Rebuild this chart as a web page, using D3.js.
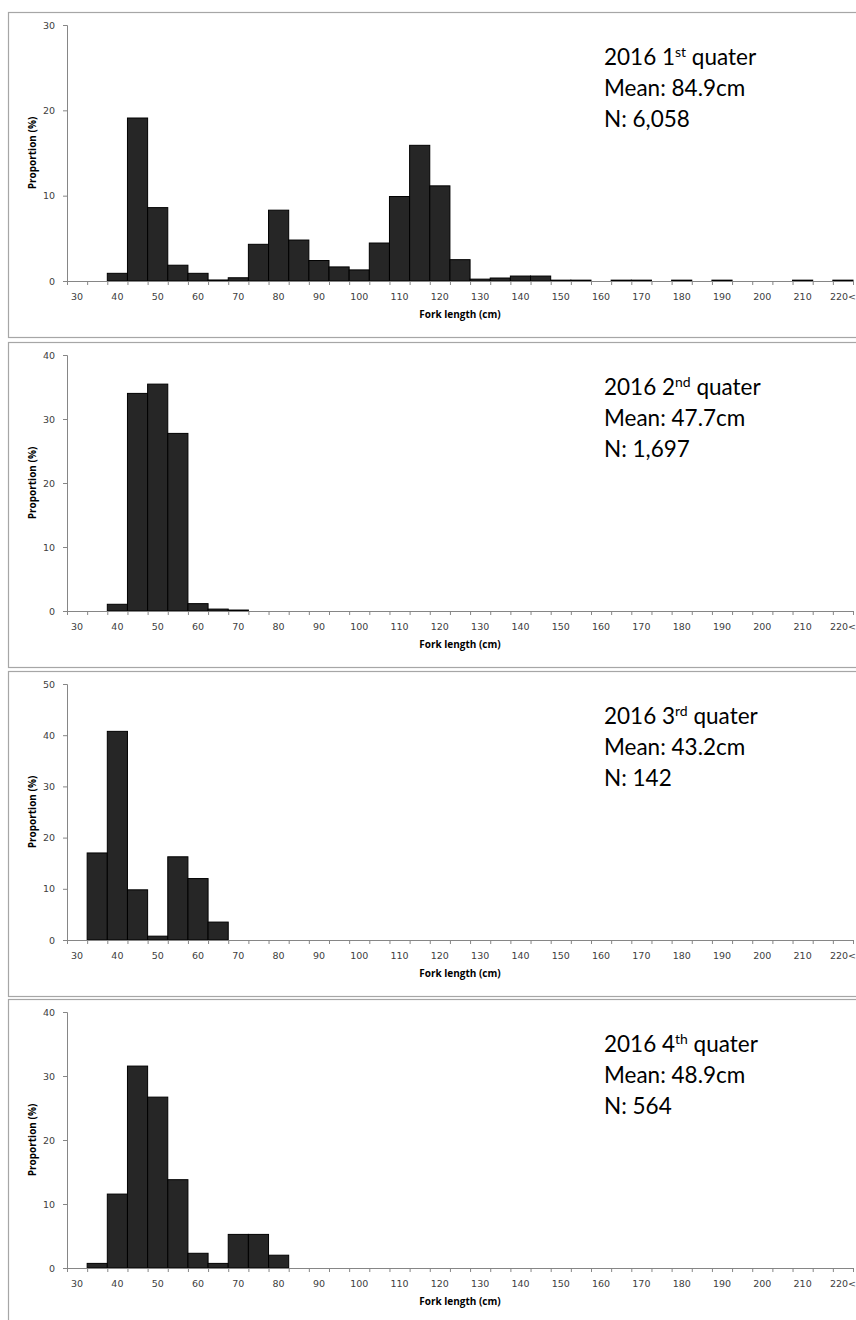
<!DOCTYPE html>
<html>
<head>
<meta charset="utf-8">
<script src="https://cdn.jsdelivr.net/npm/d3@7"></script>
<style>
  body { margin: 0; background: #fff; }
  svg { display: block; }
</style>
</head>
<body>
<script>
// fork length classes (5 cm)
var categories = ["30","35","40","45","50","55","60","65","70","75","80","85","90","95",
  "100","105","110","115","120","125","130","135","140","145","150","155","160","165",
  "170","175","180","185","190","195","200","205","210","215","220<"];
var tickLabels = ["30","40","50","60","70","80","90","100","110","120","130","140","150",
  "160","170","180","190","200","210","220<"];

// proportion (%) per class
var q1 = [0,0,0.9,19.1,8.6,1.85,0.9,0.12,0.38,4.3,8.3,4.8,2.4,1.65,1.3,4.45,9.9,15.9,11.15,2.5,
  0.22,0.35,0.58,0.58,0.1,0.1,0,0.1,0.1,0,0.1,0,0.1,0,0,0,0.1,0,0.1];
var q2 = [0,0,1.05,34.0,35.45,27.75,1.15,0.3,0.15,0,0,0,0,0,0,0,0,0,0,0,
  0,0,0,0,0,0,0,0,0,0,0,0,0,0,0,0,0,0,0];
var q3 = [0,17.0,40.75,9.8,0.75,16.25,12.0,3.5,0,0,0,0,0,0,0,0,0,0,0,0,
  0,0,0,0,0,0,0,0,0,0,0,0,0,0,0,0,0,0,0];
var q4 = [0,0.72,11.55,31.55,26.7,13.8,2.3,0.72,5.25,5.25,2.0,0,0,0,0,0,0,0,0,0,
  0,0,0,0,0,0,0,0,0,0,0,0,0,0,0,0,0,0,0];

var quarters = ["1","2","3","4"],
    suffixes = ["st","nd","rd","th"],
    means = ["84.9","47.7","43.2","48.9"],
    counts = ["6,058","1,697","142","564"],
    yMax = [30,40,50,40];

var series = [q1,q2,q3,q4],
    panelTop = [12,342,671,999];

var svg = d3.select("body").append("svg").attr("width",856).attr("height",1320);

var x = d3.scaleBand().domain(categories).range([67,853]).padding(0),
    xEdge = d3.scaleLinear().domain([0,categories.length]).range([67,853]);

series.forEach(function(vals,p){
  var top = panelTop[p],
      g = svg.append("g").attr("transform","translate(0,"+top+")");

  // frame
  g.append("rect")
    .attr("x",8.5).attr("y",0.5).attr("width",880).attr("height",325)
    .attr("fill","none").attr("stroke","#a6a6a6").attr("stroke-width",1.2);

  var y = d3.scaleLinear().domain([0,yMax[p]]).range([269,13]);

  var bars = categories.map(function(c,i){ return {cat:c, val:vals[i]}; })
                       .filter(function(d){ return d.val > 0; });

  // bars
  g.selectAll("rect.bar")
    .data(bars)
    .enter().append("rect")
      .attr("class","bar")
      .attr("x",function(d){ return x(d.cat); })
      .attr("width",x.bandwidth())
      .attr("y",function(d){ return y(d.val); })
      .attr("height",function(d){ return 269 - y(d.val); })
      .attr("fill","#262626")
      .attr("stroke","#000")
      .attr("stroke-width",1);

  // y axis
  var yAxis = d3.axisLeft(y).tickValues(d3.range(0,yMax[p]+1,10)).tickSize(4).tickPadding(8);
  var ya = g.append("g").attr("transform","translate(67,0)").call(yAxis);

  // x axis: boundary ticks
  var xa = g.append("g").attr("transform","translate(0,269)")
    .call(d3.axisBottom(xEdge).tickValues(d3.range(0,categories.length+1)).tickSize(4).tickFormat(""));
  // x axis labels at class centres
  var xl = g.append("g").attr("transform","translate(0,269)")
    .call(d3.axisBottom(x).tickValues(tickLabels).tickSize(0).tickPadding(12));
  xl.select(".domain").remove();

  [ya,xa,xl].forEach(function(a){
    a.selectAll(".domain,line").attr("stroke","#868686");
    a.selectAll("text").attr("fill","#404040")
      .style("font-family","'DejaVu Sans', Verdana, sans-serif").style("font-size","9.5px");
  });

  // axis titles
  g.append("text")
    .attr("x",460).attr("y",306)
    .attr("text-anchor","middle")
    .style("font-family","'Open Sans', sans-serif").style("font-size","10px").style("font-weight","bold")
    .attr("fill","#000")
    .text("Fork length (cm)");

  g.append("text")
    .attr("transform","translate(36,141) rotate(-90)")
    .attr("text-anchor","middle")
    .style("font-family","'Open Sans', sans-serif").style("font-size","10px").style("font-weight","bold")
    .attr("fill","#000")
    .text("Proportion (%)");

  // annotation
  var note = g.append("text")
    .attr("x",604).attr("y",53)
    .style("font-family","Lato, sans-serif").style("font-size","22.5px").attr("fill","#000");
  note.append("tspan").text("2016 " + quarters[p]);
  note.append("tspan").attr("dy",-8).style("font-size","14px").text(suffixes[p]);
  note.append("tspan").attr("dy",8).text(" quater");

  g.append("text").attr("x",604).attr("y",84)
    .style("font-family","Lato, sans-serif").style("font-size","22.5px").attr("fill","#000")
    .text("Mean: " + means[p] + "cm");
  g.append("text").attr("x",604).attr("y",115)
    .style("font-family","Lato, sans-serif").style("font-size","22.5px").attr("fill","#000")
    .text("N: " + counts[p]);
});
</script>
</body>
</html>
